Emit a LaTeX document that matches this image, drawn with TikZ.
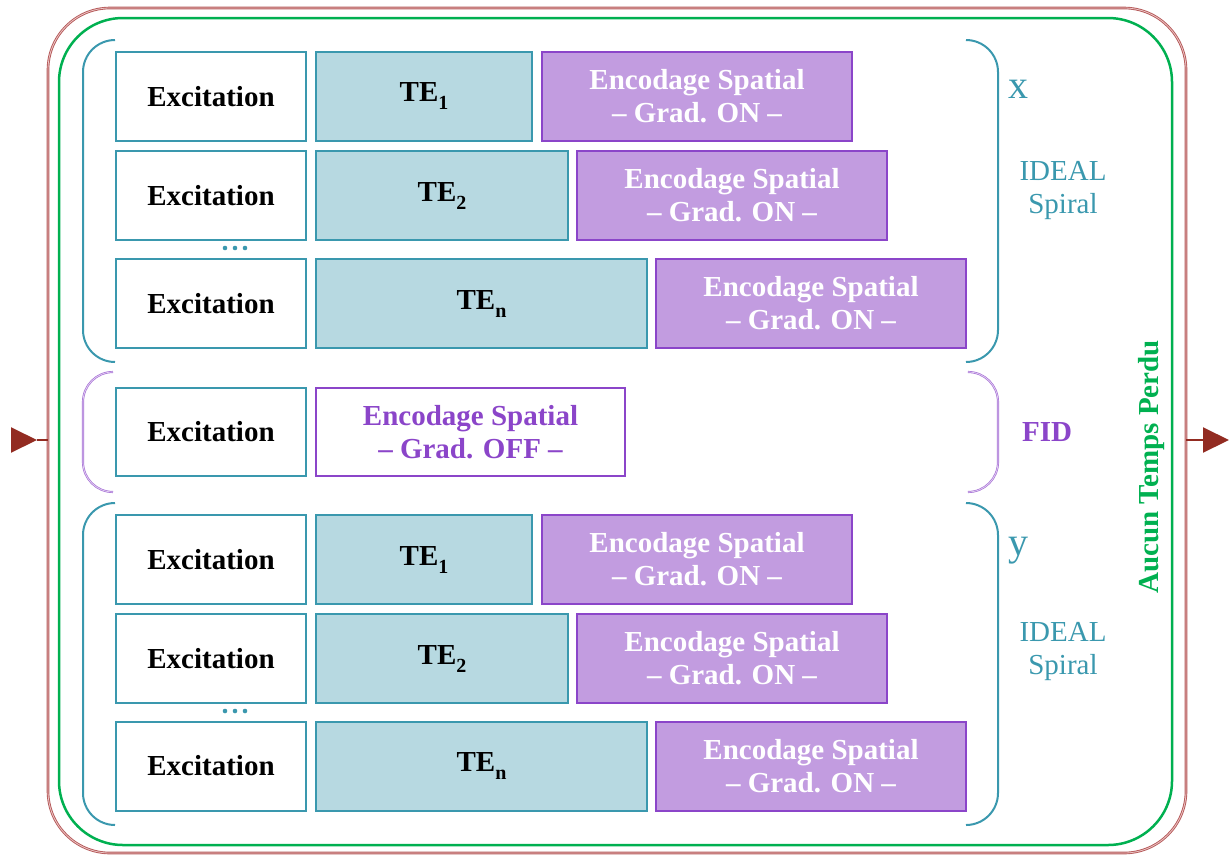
\documentclass[tikz,border=0pt]{standalone}
\usepackage{fontspec}
\setmainfont{Liberation Serif}
\usetikzlibrary{arrows.meta}
\definecolor{tealc}{HTML}{3A98AE}
\definecolor{tealfill}{HTML}{B7D9E1}
\definecolor{purc}{HTML}{8B45C9}
\definecolor{purfill}{HTML}{C29CE0}
\definecolor{greenc}{HTML}{00B050}
\definecolor{redc}{HTML}{B55A5A}
\definecolor{redlight}{HTML}{ECC4C4}
\definecolor{purlight}{HTML}{E4D2F2}
\definecolor{arrowc}{HTML}{922B21}
\newcommand{\mysub}[1]{\raisebox{-8pt}{\fontsize{20}{20}\selectfont #1}}
\tikzset{
  box/.style={rectangle, line width=2pt, inner sep=0pt, minimum height=89pt, align=center,
    font=\bfseries\fontsize{29}{33}\selectfont},
  excbox/.style={box, draw=tealc, fill=white, minimum width=190pt},
  tebox/.style={box, draw=tealc, fill=tealfill},
  encbox/.style={box, draw=purc, fill=purfill, text=white, minimum width=310pt},
  offbox/.style={box, draw=purc, fill=white, text=purc, minimum width=309pt},
  tealbracket/.style={draw=tealc, line width=2pt, rounded corners=32pt},
  fidbracket/.style={draw=purc!75, double=purlight, double distance=0.7pt, line width=0.7pt, rounded corners=30pt},
  lbl/.style={text=tealc, align=center, font=\fontsize{29}{33}\selectfont},
  redline/.style={draw=arrowc, line width=2pt},
  tip/.style={-{Triangle[length=26pt,width=25pt]}, arrowc, line width=2pt},
}
\begin{document}
\begin{tikzpicture}[x=1pt,y=-1pt]
\useasboundingbox (0,0) rectangle (1229,855);
% frames
\node[draw=redc, double=redlight, double distance=0.8pt, line width=0.9pt, rounded corners=62pt,
  minimum width=1138pt, minimum height=845pt, inner sep=0pt] (frame) at (617,430.5) {};
\node[draw=greenc, line width=2.5pt, rounded corners=64pt,
  minimum width=1113pt, minimum height=827pt, inner sep=0pt] (inner) at (615.5,431.5) {};
\node[text=greenc, rotate=90, font=\bfseries\fontsize{29}{33}\selectfont] (atp) at (1152,467) {Aucun Temps Perdu};
% arrows
\coordinate (aL0) at (11,440);
\coordinate (aL1) at (37,440);
\coordinate (fL) at (48,440);
\coordinate (fR) at (1186,440);
\coordinate (aR1) at (1203,440);
\coordinate (aR2) at (1229,440);
\draw[tip] (aL0) -- (aL1);
\draw[redline] (aL1) -- (fL);
\draw[redline] (fR) -- (aR1);
\draw[tip] (aR1) -- (aR2);
% group x
\node[excbox] (e1) at (211,96.5) {Excitation};
\node[tebox, minimum width=216pt] (t1) at (424,96.5) {TE\mysub{1}};
\node[encbox] (s1) at (697,96.5) {Encodage Spatial\\– Grad. ON –};
\node[excbox] (e2) at (211,195.5) {Excitation};
\node[tebox, minimum width=252pt] (t2) at (442,195.5) {TE\mysub{2}};
\node[encbox] (s2) at (732,195.5) {Encodage Spatial\\– Grad. ON –};
\node[excbox] (e3) at (211,303.5) {Excitation};
\node[tebox, minimum width=331pt] (t3) at (481.5,303.5) {TE\mysub{n}};
\node[encbox] (s3) at (811,303.5) {Encodage Spatial\\– Grad. ON –};
\fill[tealc] (225,248) circle (2.3pt) (235,248) circle (2.3pt) (245,248) circle (2.3pt);
\draw[tealbracket] (115,40) -- (83,40) -- (83,362) -- (115,362);
\draw[tealbracket] (966,40) -- (998,40) -- (998,362) -- (966,362);
\node[lbl, font=\fontsize{40}{40}\selectfont] (lx) at (1018,89) {x};
\node[lbl] (ls1) at (1063,191) {IDEAL\\Spiral};
% FID
\node[excbox, minimum height=88pt] (e4) at (211,432) {Excitation};
\node[offbox, minimum height=88pt] (s4) at (470.5,432) {Encodage Spatial\\– Grad. OFF –};
\draw[fidbracket] (113,372) -- (83,372) -- (83,492) -- (113,492);
\draw[fidbracket] (969,372) -- (998,372) -- (998,492) -- (969,492);
\node[text=purc, font=\bfseries\fontsize{29}{30}\selectfont] (lf) at (1047,432) {FID};
% group y
\node[excbox] (e5) at (211,559.5) {Excitation};
\node[tebox, minimum width=216pt] (t5) at (424,559.5) {TE\mysub{1}};
\node[encbox] (s5) at (697,559.5) {Encodage Spatial\\– Grad. ON –};
\node[excbox] (e6) at (211,658.5) {Excitation};
\node[tebox, minimum width=252pt] (t6) at (442,658.5) {TE\mysub{2}};
\node[encbox] (s6) at (732,658.5) {Encodage Spatial\\– Grad. ON –};
\node[excbox] (e7) at (211,766) {Excitation};
\node[tebox, minimum width=331pt] (t7) at (481.5,766) {TE\mysub{n}};
\node[encbox] (s7) at (811,766) {Encodage Spatial\\– Grad. ON –};
\fill[tealc] (225,711) circle (2.3pt) (235,711) circle (2.3pt) (245,711) circle (2.3pt);
\draw[tealbracket] (115,503) -- (83,503) -- (83,825) -- (115,825);
\draw[tealbracket] (966,503) -- (998,503) -- (998,825) -- (966,825);
\node[lbl, font=\fontsize{40}{40}\selectfont] (ly) at (1018,551) {y};
\node[lbl] (ls2) at (1063,652) {IDEAL\\Spiral};
\end{tikzpicture}
\end{document}
